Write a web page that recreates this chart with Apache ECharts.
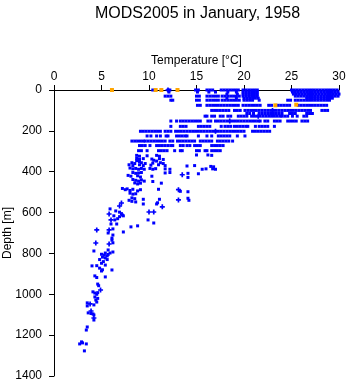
<!DOCTYPE html>
<html><head><meta charset="utf-8">
<script src="https://cdn.jsdelivr.net/npm/echarts@6/dist/echarts.min.js"></script>
<style>html,body{margin:0;padding:0;background:#fff}#c{width:348px;height:384px}</style>
</head><body><div id="c"></div>
<script>
// Depth levels (m) of the dense near-surface profiles, and the temperatures (°C) observed at each
const rowDepths = [0, 10, 20, 30, 40, 50, 75, 100, 115, 128, 152, 178, 202, 225, 250, 272, 297];
const rowTemps = [
  [10.4, 12.0, 12.2, 14.9, 15.2, 16.1, 16.4, 16.7, 17.6, 17.9, 18.2, 18.5, 18.8, 19.1, 19.4, 19.9, 20.2, 20.5, 20.8, 21.1, 21.4, 25.0, 25.3, 25.6, 25.9, 26.2, 26.5, 26.8, 27.1, 27.4, 27.7, 28.0, 28.3, 28.6, 28.9, 29.2, 29.5, 29.8],
  [12.1, 15.1, 16.3, 17.0, 18.3, 19.2, 19.9, 20.2, 20.5, 20.8, 21.1, 21.4, 25.1, 25.4, 25.7, 26.0, 26.3, 26.6, 26.9, 27.2, 27.5, 27.8, 28.1, 28.4, 28.7, 29.0, 29.3, 29.6, 29.9],
  [18.2, 19.3, 19.9, 20.2, 20.5, 20.8, 21.1, 21.4, 25.2, 25.5, 25.8, 26.1, 26.4, 26.7, 27.0, 27.3, 27.6, 27.9, 28.2, 28.5, 28.8, 29.1, 29.4, 29.7, 30.0],
  [11.7, 12.0, 12.3, 15.0, 15.3, 16.1, 16.4, 16.7, 17.0, 17.3, 17.7, 18.0, 18.3, 18.6, 18.9, 19.2, 19.5, 19.9, 20.2, 20.5, 20.8, 21.1, 21.4, 25.4, 25.7, 26.0, 26.3, 26.6, 26.9, 27.2, 27.5, 27.8, 28.1, 28.4, 28.7, 29.0, 29.3, 29.6, 29.9],
  [18.2, 19.2, 20.0, 20.3, 20.6, 20.9, 21.2, 21.5, 26.6, 26.9, 27.2, 27.5, 27.8, 28.1, 28.4, 28.7, 29.0, 29.3],
  [12.3, 12.5, 15.0, 15.3, 16.1, 16.4, 16.7, 17.0, 17.3, 17.7, 18.0, 18.3, 18.6, 18.9, 19.2, 19.5, 20.0, 20.3, 20.6, 20.9, 21.6, 24.6, 24.9, 25.4, 25.7, 26.0, 26.3, 26.6, 26.9, 27.2, 27.5, 27.8, 28.1, 28.4, 28.7, 29.0],
  [15.1, 15.4, 16.1, 16.4, 16.7, 17.0, 17.3, 17.6, 17.9, 18.2, 18.5, 18.8, 19.1, 19.4, 19.9, 20.2, 20.5, 20.8, 21.1, 21.4, 21.7, 22.6, 22.9, 23.6, 23.9, 24.2, 24.5, 24.8, 25.7, 26.0, 26.3, 26.6, 26.9, 27.2, 27.5, 27.8, 28.1, 28.4, 28.7],
  [16.6, 16.9, 17.2, 17.5, 17.8, 18.1, 18.4, 19.0, 19.3, 19.6, 20.1, 20.4, 20.7, 21.0, 21.3, 21.6, 21.9, 22.2, 22.5, 22.8, 23.1, 23.4, 23.7, 24.0, 24.3, 24.6, 24.9, 25.2, 25.5, 25.8, 26.1, 26.4, 26.7, 27.0, 28.2, 28.5, 28.8],
  [20.3, 20.6, 21.0, 21.6, 21.9, 22.2, 22.5, 22.8, 23.1, 23.4, 23.7, 24.0, 24.8, 25.1, 25.4, 26.6, 26.9, 27.2],
  [15.9, 16.1, 16.6, 16.9, 17.5, 17.8, 18.3, 18.6, 19.4, 19.7, 20.0, 20.3, 20.8, 21.1, 21.4, 21.7, 22.0, 22.3, 22.6, 22.9, 23.2, 23.5, 23.8, 24.0, 24.3, 24.6, 25.1, 25.6, 26.3, 26.6],
  [12.3, 12.9, 13.3, 13.6, 13.9, 14.2, 14.5, 14.8, 15.1, 15.4, 16.2, 16.5, 17.0, 17.3, 17.6, 17.9, 18.2, 18.5, 18.8, 19.1, 19.4, 19.7, 20.0, 20.3, 20.6, 20.9, 21.2, 21.5, 21.7, 22.2, 22.5, 23.2, 23.5, 23.8, 24.6, 24.9, 25.2, 25.5, 26.1, 26.4, 26.7],
  [12.3, 13.3, 13.6, 13.9, 15.2, 15.5, 15.8, 16.1, 16.4, 17.6, 18.0, 18.3, 18.6, 19.0, 19.3, 19.6, 19.9, 20.2, 20.4, 21.2, 21.6, 21.9, 22.2, 22.5, 23.2],
  [9.1, 9.4, 9.7, 10.0, 10.3, 10.6, 10.9, 11.2, 11.7, 12.0, 12.3, 12.8, 13.1, 13.4, 13.7, 14.0, 14.3, 14.6, 14.9, 15.2, 15.5, 15.8, 16.1, 16.4, 16.7, 17.0, 17.3, 17.6, 17.9, 18.2, 18.5, 18.8, 19.1, 19.4, 19.7, 20.0, 20.9, 21.2, 21.5, 21.8, 22.1, 22.4, 22.7],
  [9.8, 10.2, 10.8, 11.2, 11.8, 12.0, 12.9, 13.2, 13.5, 13.8, 14.0, 15.2, 16.1, 16.6, 17.3, 17.6, 17.9, 18.2, 18.5, 19.3, 20.1],
  [8.2, 8.5, 8.8, 9.1, 9.4, 9.6, 9.9, 10.2, 10.5, 10.8, 11.1, 11.4, 11.7, 12.2, 12.5, 13.0, 13.3, 13.6, 13.9, 14.2, 14.5, 14.8, 15.4, 15.7, 16.0, 16.3, 16.6, 17.2, 17.5, 17.8, 18.1, 18.4, 18.8],
  [9.0, 9.3, 9.6, 10.1, 10.8, 11.1, 11.4, 11.7, 12.0, 12.3, 12.5, 13.3, 13.6, 14.0, 14.3, 14.8, 15.1, 15.4, 16.6, 16.9, 17.2, 17.5, 17.8],
  [8.9, 9.2, 9.8, 11.0, 11.3, 11.6, 11.9, 12.7, 13.3, 13.5, 15.0, 15.3, 15.9, 16.1, 16.6, 16.9, 17.2, 17.5]
];
// Individual deeper observations [temperature °C, depth m]
const deepPoints = [
  [8.7,320],[9.0,324],[9.8,322],[10.8,320],[11.1,324],[15.0,318],[16.2,318],[16.6,320],
  [8.7,335],[9.0,340],[9.4,336],[10.3,338],[11.1,336],[11.5,340],
  [8.7,346],[9.0,350],[10.5,344],[10.8,348],
  [8.2,356],[8.5,360],[9.2,356],[9.6,360],[10.4,358],[11.2,356],[11.5,360],
  [7.9,366],[8.3,370],[9.0,366],[9.4,370],[10.2,368],[11.0,366],[11.7,370],[14.0,372],[14.8,370],[16.5,374],[16.8,376],
  [8.0,382],[8.3,386],[8.6,384],[8.9,388],[9.2,384],[9.5,388],[10.1,384],[10.4,388],[10.7,385],[11.7,386],[12.2,388],[15.6,388],[16.0,386],[16.7,386],[17.0,388],
  [8.3,404],[8.6,408],[8.9,406],[9.2,404],[11.7,406],[12.2,404],[14.1,408],[15.2,410],
  [7.8,418],[8.1,422],[8.8,420],[9.1,426],[10.3,422],[14.1,428],
  [8.3,438],[8.6,442],[8.9,446],[9.2,440],[9.5,446],[8.5,455],[8.8,460],[9.1,456],[10.4,448],[11.3,456],
  [7.2,482],[7.5,488],[7.7,484],[8.0,492],[8.3,486],[8.8,494],[9.1,488],[11.0,486],[13.3,496],[14.1,498],
  [8.0,505],[8.3,510],[8.6,508],
  [8.2,528],[8.5,532],[9.4,535],[11.1,535],[14.1,530],[14.2,540],
  [7.9,540],[8.2,545],[8.6,548],[9.4,558],[10.8,558],[10.9,552],
  [6.5,592],[5.9,582],[6.9,598],[7.1,605],[7.2,612],[6.9,620],[7.3,616],[6.3,616],[6.4,636],[6.7,630],
  [6.0,656],[6.6,656],[6.2,680],[7.3,695],[8.1,670],[8.8,665],[9.9,636],[10.5,651],
  [5.7,700],[6.2,710],[6.1,725],[6.1,735],[6.2,748],[4.2,788],[5.7,783],[5.4,798],[5.9,798],[6.2,793],
  [5.0,804],[5.3,808],[5.6,812],[5.1,818],[5.4,822],[5.7,805],[5.6,830],[5.2,840],[5.0,848],[4.8,830],
  [4.0,861],[4.5,860],[5.4,857],[4.8,872],[5.1,880],[5.0,886],[6.1,881],[4.3,910],[4.5,918],[5.4,915],
  [4.6,950],[4.7,958],[4.1,988],[4.3,994],[4.5,1000],[4.6,992],[4.3,1013],[4.6,1020],[4.4,1028],[4.5,1038],
  [3.5,1042],[4.2,1052],[3.5,1057],[3.6,1091],[3.9,1094],[4.1,1096],[4.2,1101],[4.2,1126],
  [3.5,1160],[3.4,1175],[2.9,1233],[2.7,1243],[3.4,1243],[3.0,1238],[3.2,1277]
];
// Observations drawn with a plus marker [temperature °C, depth m]
const plusPoints = [
  [12.0,0],[17.0,202],[18.5,152],[21.5,128],[23.0,100],[13.5,415],[13.1,488],[13.1,538],
  [7.1,553],[6.9,568],[11.4,572],[10.0,597],[10.5,597],[5.8,607],[6.0,636],
  [4.5,685],[5.8,685],[4.4,749],[5.8,754],[4.9,979],[3.8,1047],[3.9,1082],[4.2,1116]
];
// Flagged observations (orange) [temperature °C, depth m]
const orangePoints = [[6.1,0],[10.7,0],[11.3,0],[13.0,0],[23.3,75],[25.5,72]];

const xTicks = [0, 5, 10, 15, 20, 25, 30];
const yTicks = [0, 200, 400, 600, 800, 1000, 1200, 1400];

const squarePts = [];
rowDepths.forEach((d, i) => rowTemps[i].forEach(t => squarePts.push([t, d])));
deepPoints.forEach(p => squarePts.push(p));

const FONT = "'Liberation Sans', Arial, Helvetica, sans-serif";
const chart = echarts.init(document.getElementById('c'), null, {renderer: 'canvas'});
chart.setOption({
  animation: false,
  backgroundColor: '#fff',
  title: {
    text: 'MODS2005 in January, 1958', left: 90, top: 1,
    textStyle: {fontFamily: FONT, fontSize: 16, fontWeight: 'normal', color: '#000'}
  },
  grid: {left: 54, right: 9, top: 90, bottom: 8, containLabel: false, outerBoundsMode: 'none'},
  xAxis: {
    type: 'value', position: 'top', min: xTicks[0], max: xTicks[xTicks.length - 1], interval: 5,
    name: 'Temperature [°C]', nameLocation: 'middle', nameGap: 23, nameMoveOverlap: false,
    nameTextStyle: {fontFamily: FONT, fontSize: 12, color: '#000'},
    axisLine: {show: true, onZero: false, lineStyle: {color: '#000', width: 1}},
    axisTick: {show: true, length: 5, lineStyle: {color: '#000', width: 1}},
    axisLabel: {margin: 7, color: '#000', fontSize: 12, fontFamily: FONT, formatter: v => String(v)},
    splitLine: {show: false}
  },
  yAxis: {
    type: 'value', inverse: true, min: yTicks[0], max: yTicks[yTicks.length - 1], interval: 200,
    name: 'Depth [m]', nameLocation: 'middle', nameGap: 40, nameMoveOverlap: false,
    nameTextStyle: {fontFamily: FONT, fontSize: 12, color: '#000'},
    axisLine: {show: true, onZero: false, lineStyle: {color: '#000', width: 1}},
    axisTick: {show: true, length: 5, lineStyle: {color: '#000', width: 1}},
    axisLabel: {margin: 12, color: '#000', fontSize: 12, fontFamily: FONT, formatter: v => String(v)},
    splitLine: {show: false}
  },
  series: [
    {type: 'scatter', data: squarePts, symbol: 'rect', symbolSize: 3,
     itemStyle: {color: '#0000ff', opacity: 1}, silent: true},
    {type: 'scatter', data: plusPoints, symbol: 'path://M1,0H2V1H3V2H2V3H1V2H0V1H1Z', symbolSize: 5,
     itemStyle: {color: '#0000ff', opacity: 1}, silent: true},
    {type: 'scatter', data: orangePoints, symbol: 'rect', symbolSize: 4,
     itemStyle: {color: '#ffa500', opacity: 1}, silent: true}
  ]
});
</script></body></html>
